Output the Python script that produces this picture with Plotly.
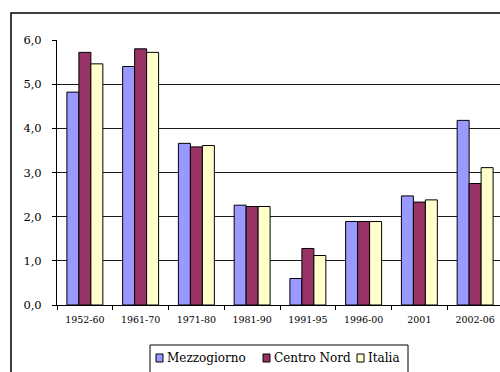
import plotly.graph_objects as go

categories = ["1952-60", "1961-70", "1971-80", "1981-90", "1991-95", "1996-00", "2001", "2002-06"]
mezzogiorno = [4.82, 5.40, 3.66, 2.26, 0.60, 1.89, 2.47, 4.18]
centro_nord = [5.72, 5.80, 3.58, 2.23, 1.28, 1.89, 2.33, 2.75]
italia = [5.46, 5.72, 3.61, 2.23, 1.12, 1.89, 2.38, 3.11]
y_ticks = [0, 1, 2, 3, 4, 5, 6]

series = [
    ("Mezzogiorno", mezzogiorno, "#9999FF"),
    ("Centro Nord", centro_nord, "#993366"),
    ("Italia", italia, "#FFFFCC"),
]

FONT = "DejaVu Serif"
L, T, B = 57, 40, 67
W, H = 500, 372
pw = W - L
ph = H - T - B


def px_x(px):
    return (px - L) / pw


def px_y(py):
    return (H - B - py) / ph


fig = go.Figure()
for name, vals, col in series:
    fig.add_trace(go.Bar(
        x=categories, y=vals, name=name, showlegend=False,
        marker=dict(color=col, line=dict(color="#000000", width=1)),
    ))

shapes = [
    dict(type="rect", xref="paper", yref="paper",
         x0=px_x(11), x1=1.2, y0=-0.6, y1=px_y(13),
         line=dict(color="#000000", width=1.5), fillcolor="rgba(0,0,0,0)", layer="below"),
    dict(type="rect", xref="paper", yref="paper",
         x0=px_x(150), x1=px_x(408), y0=px_y(380), y1=px_y(345),
         line=dict(color="#000000", width=1), fillcolor="white", layer="above"),
]
annotations = []
legend_pos = [(156, 165), (263, 272), (357, 366)]
for (name, _, col), (sx, tx) in zip(series, legend_pos):
    shapes.append(dict(type="rect", xref="paper", yref="paper",
                       x0=px_x(sx), x1=px_x(sx + 7), y0=px_y(362), y1=px_y(354),
                       line=dict(color="#000000", width=1), fillcolor=col, layer="above"))
    annotations.append(dict(text=name, xref="paper", yref="paper",
                            x=px_x(tx), y=px_y(358), xanchor="left", yanchor="middle",
                            showarrow=False,
                            font=dict(family=FONT, size=12, color="#000000")))

fig.update_layout(
    width=W, height=H,
    margin=dict(l=L, r=0, t=T, b=B, pad=0),
    paper_bgcolor="white", plot_bgcolor="white",
    barmode="group", bargap=0.355, bargroupgap=0,
    separators=",.",
    font=dict(family=FONT, color="#000000"),
    showlegend=False,
    xaxis=dict(
        type="category", range=[-0.5, 7.5 - 3 / 55.75],
        ticks="outside", tickson="boundaries", ticklen=4, tickcolor="#000000",
        showline=True, linecolor="#000000", linewidth=1,
        tickfont=dict(family=FONT, size=9.5, color="#000000"),
        ticklabelstandoff=6,
        showgrid=False,
    ),
    yaxis=dict(
        range=[0, 6], tickvals=y_ticks, tickformat=".1f",
        ticks="outside", ticklen=4, tickcolor="#000000",
        showline=True, linecolor="#000000", linewidth=1,
        showgrid=True, gridcolor="#1a1a1a", gridwidth=1,
        tickfont=dict(family=FONT, size=11.5, color="#000000"),
        ticklabelstandoff=8,
        zeroline=False,
    ),
    shapes=shapes,
    annotations=annotations,
)

fig.write_html("out.html")
